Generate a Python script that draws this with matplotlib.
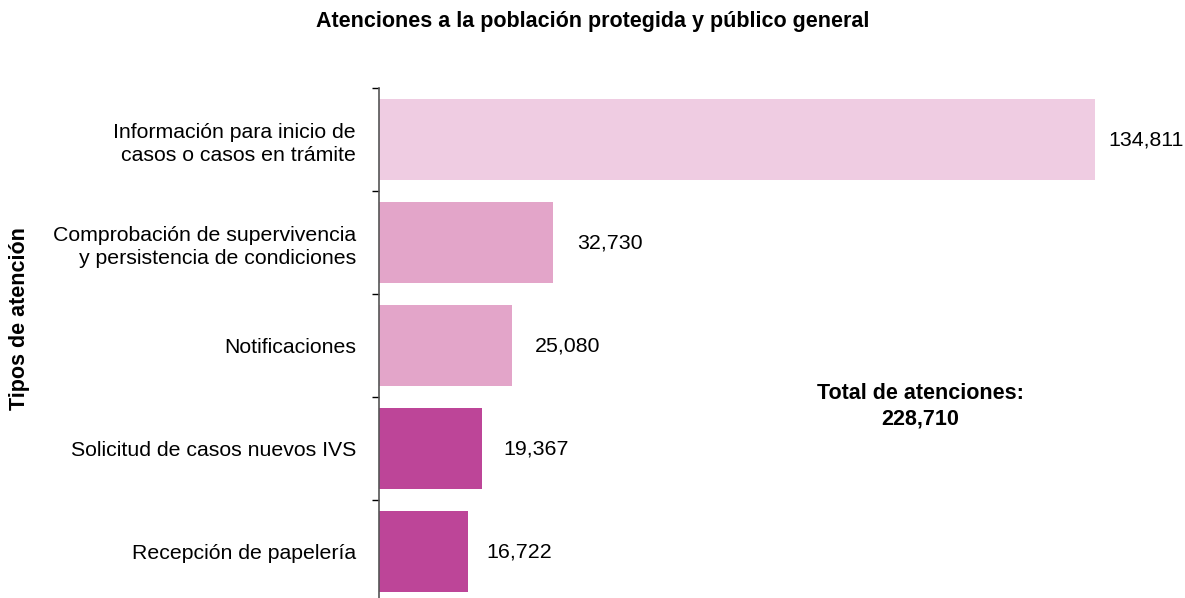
import numpy as np
import matplotlib.pyplot as plt

plt.rcParams['font.family'] = ['Liberation Sans', 'DejaVu Sans']

categorias = ["Información para inicio de\ncasos o casos en trámite",
              "Comprobación de supervivencia\ny persistencia de condiciones",
              "Notificaciones",
              "Solicitud de casos nuevos IVS",
              "Recepción de papelería"]
valores = [134811, 32730, 25080, 19367, 16722]
colores = ['#EFCCE2', '#E3A5C9', '#E3A5C9', '#BD4598', '#BD4598']
total = 228710

fig = plt.figure(figsize=(11.85, 5.98), dpi=100)
ax = fig.add_axes([379 / 1185, 1 - 603 / 598, 1 - 379 / 1185, (603 - 88) / 598])

y = np.arange(len(categorias))
ax.barh(y, valores, height=0.78, color=colores)
ax.set_ylim(len(categorias) - 0.5, -0.5)
ax.set_xlim(0, 151760)

pads = [13, 24, 23, 22, 19]
for i, v in enumerate(valores):
    ax.annotate(f"{v:,}", (v, i), xytext=(pads[i] * 0.72, 0), textcoords='offset points',
                va='center', ha='left', fontsize=15.4)

ax.set_yticks(y)
ax.set_yticklabels(categorias, fontsize=15.3, linespacing=1.3)
ax.set_yticks(np.arange(len(categorias) + 1) - 0.5, minor=True)
ax.tick_params(axis='y', which='major', length=0, pad=23 * 0.72)
ax.tick_params(axis='y', which='minor', length=5, width=1, direction='out')
ax.set_xticks([])
for s in ['top', 'right', 'bottom']:
    ax.spines[s].set_visible(False)
ax.spines['left'].set_color('#555555')
ax.spines['left'].set_linewidth(1.2)

fig.text(0.5, 1 - 22 / 598, "Atenciones a la población protegida y público general",
         ha='center', va='center', fontsize=15.5, fontweight='bold')
fig.text(20 / 1185, 1 - 319 / 598, "Tipos de atención", rotation=90,
         ha='center', va='center', fontsize=15.5, fontweight='bold')
fig.text(920 / 1185, 1 - 406 / 598, f"Total de atenciones:\n{total:,}",
         ha='center', va='center', fontsize=15.5, fontweight='bold', linespacing=1.25)

fig.savefig("out.png", dpi=100)
